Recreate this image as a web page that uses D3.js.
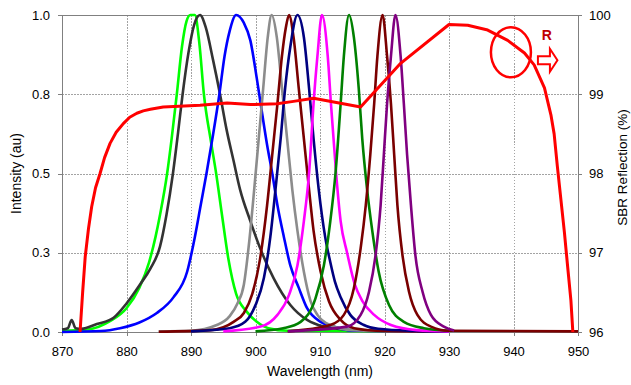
<!DOCTYPE html>
<html>
<head>
<meta charset="utf-8">
<script src="https://cdn.jsdelivr.net/npm/d3@7"></script>
<style>
    body { margin: 0; background: #fff; }
    svg { font-family: "Liberation Sans", Arial, sans-serif; }
    .axis text { font-size: 13px; fill: #000; }
    .axis path, .axis line { stroke: #808080; shape-rendering: crispEdges; }
    .grid line { stroke: #a3a3a3; stroke-dasharray: 1.5,1.5; shape-rendering: crispEdges; }
    .axis-title { font-size: 14px; fill: #000; }
</style>
</head>
<body>
<div id="chart"></div>
<script>
// Axis ticks
var wavelengthTicks = [870, 880, 890, 900, 910, 920, 930, 940, 950];
var intensityTicks = [0, 0.25, 0.5, 0.75, 1.0];
var intensityLabels = ["0.0", "0.3", "0.5", "0.8", "1.0"];
var reflectionTicks = [96, 97, 98, 99, 100];

// Laser emission spectra, [wavelength nm, normalised intensity]
var peakLime = [[870,0.004],[874,0.008],[877.5,0.035],[880,0.075],[882,0.14],[883.5,0.22],[884.5,0.3],[885.2,0.37],
    [886.3,0.5],[887,0.61],[887.8,0.75],[888.6,0.9],[889.3,0.98],[889.9,1.0],[890.6,1.0],[891.3,0.91],[892.0,0.75],
    [893.1,0.6],[893.9,0.5],[894.8,0.37],[895.8,0.23],[897.0,0.12],[898.6,0.065],[900.2,0.032],[902,0.012],[905,0.004],[930,0.002]];
var peakDarkGray = [[870,0.008],[870.9,0.012],[871.5,0.038],[872.1,0.012],[873,0.01],[875.4,0.025],[878,0.045],[880,0.09],
    [882.1,0.15],[883.7,0.2],[885.2,0.27],[886.2,0.37],[887.2,0.5],[888,0.63],[888.7,0.75],[889.6,0.88],[890.5,0.97],[891.4,1.0],
    [892.3,0.96],[893.4,0.86],[894.5,0.75],[895.5,0.64],[896.6,0.54],[897.6,0.45],[899.2,0.35],[900.8,0.26],[902.8,0.17],
    [905.4,0.085],[908,0.038],[910.6,0.017],[915,0.006],[925,0.002]];
var peakBlue = [[870,0.0],[876,0.003],[879,0.012],[882,0.03],[884.7,0.06],[887.3,0.11],[889.4,0.19],[890.6,0.3],[891.5,0.4],
    [892.4,0.5],[893.4,0.62],[894.4,0.75],[895.2,0.87],[896,0.95],[897,1.0],[898.2,0.975],[899.2,0.92],[900.2,0.8],[900.8,0.72],
    [901.8,0.59],[902.6,0.5],[903.4,0.4],[904.4,0.3],[905.4,0.21],[906.7,0.14],[908,0.075],[910.1,0.032],[912.1,0.017],
    [914.7,0.005],[930,0.002]];
var peakGray = [[885,0.002],[890,0.004],[894,0.022],[896,0.05],[897.2,0.09],[898.2,0.15],[899,0.28],[899.8,0.45],[900.5,0.61],
    [901.2,0.77],[901.9,0.93],[902.5,1.0],[903.3,0.93],[904.1,0.77],[904.9,0.61],[905.7,0.45],[906.5,0.32],[907.5,0.19],
    [908.5,0.1],[909.6,0.054],[911.6,0.022],[915,0.006],[925,0.002]];
var peakMaroonA = [[885,0.001],[893,0.006],[896.6,0.032],[898.2,0.06],[899.5,0.12],[900.7,0.23],[901.8,0.4],[902.6,0.56],
    [903.4,0.72],[904.1,0.87],[904.7,0.96],[905.2,1.0],[905.9,0.93],[906.7,0.77],[907.5,0.61],[908.3,0.45],[909,0.32],
    [910.1,0.19],[911.4,0.096],[913.2,0.038],[915.3,0.012],[920,0.003],[930,0.001]];
var peakNavy = [[890,0.002],[896,0.012],[898.4,0.032],[900,0.085],[901.3,0.17],[902.3,0.3],[903.1,0.45],[903.9,0.61],
    [904.6,0.77],[905.4,0.9],[906.5,1.0],[907.5,0.93],[908.3,0.77],[909,0.61],[909.8,0.45],[910.8,0.3],[911.6,0.22],
    [912.3,0.16],[913.2,0.11],[914.7,0.054],[916.8,0.022],[919,0.01],[925,0.003],[930,0.001]];
var peakMagenta = [[895,0.002],[900.8,0.017],[903.4,0.054],[905.2,0.117],[906.5,0.21],[907.5,0.35],[908.3,0.5],[909,0.72],
    [909.6,0.87],[910.3,1.0],[911.2,0.87],[911.7,0.72],[912.5,0.5],[913.2,0.35],[914.2,0.25],[915.4,0.15],[916.5,0.1],
    [918.4,0.054],[921,0.022],[925,0.006],[930,0.002]];
var peakGreen = [[900,0.002],[904.3,0.012],[907,0.032],[909.3,0.106],[910.6,0.21],[911.6,0.35],[912.4,0.5],[913.2,0.72],
    [913.7,0.87],[914.5,1.0],[915.25,0.93],[916,0.77],[916.55,0.61],[917.3,0.45],[918.1,0.32],[919.1,0.19],[920.7,0.085],
    [923,0.032],[926.1,0.012],[930,0.004]];
var peakMaroonB = [[905,0.002],[911.6,0.022],[913.7,0.054],[915.25,0.138],[916.3,0.264],[917.1,0.4],[917.8,0.56],[918.4,0.72],
    [918.9,0.87],[919.7,1.0],[920.4,0.87],[921,0.72],[921.5,0.56],[922,0.4],[922.8,0.24],[923.8,0.127],[925.1,0.054],
    [927.2,0.017],[930,0.004],[950,0.002]];
var peakPurple = [[905,0.002],[914.2,0.017],[916.3,0.054],[917.6,0.127],[918.6,0.24],[919.4,0.4],[919.9,0.56],[920.4,0.72],
    [921,0.87],[921.7,1.0],[922.5,0.87],[923,0.72],[923.5,0.56],[924.1,0.4],[924.8,0.24],[925.9,0.127],[927.2,0.054],
    [929.2,0.017],[930.8,0.005]];

// SBR reflection, [wavelength nm, reflection %]
var sbrReflection = [[872.8,96.0],[873.2,96.5],[873.6,96.95],[874.1,97.3],[874.6,97.58],[875.2,97.82],[875.9,98.0],
    [876.6,98.2],[877.45,98.38],[878.4,98.52],[879.5,98.63],[880.5,98.71],[881.6,98.76],[882.6,98.79],[883.7,98.81],
    [885.7,98.84],[891.4,98.86],[895.6,98.89],[899.2,98.87],[903.35,98.88],[905.9,98.91],[909.0,98.95],
    [916.3,98.84],[922.5,99.39],[930.0,99.88],[932.9,99.87],[936.0,99.81],[939.1,99.68],[941.7,99.52],[943.2,99.37],
    [944.8,99.08],[945.8,98.74],[946.3,98.5],[946.8,98.09],[947.35,97.67],[947.9,97.25],[948.4,96.82],[948.9,96.4],[949.2,96.0]];

var peakSeries = [peakLime, peakDarkGray, peakBlue, peakGray, peakMaroonA, peakNavy, peakMagenta, peakGreen, peakMaroonB, peakPurple];
var peakColors = ["#00ff00", "#333333", "#0000ff", "#8c8c8c", "#7a0000", "#000080", "#ff00ff", "#008000", "#7a0000", "#800080"];

var margin = { top: 15, right: 53, bottom: 53, left: 62 };
var width = 631 - margin.left - margin.right,
    height = 385 - margin.top - margin.bottom;

var svg = d3.select("#chart").append("svg")
    .attr("width", 631)
    .attr("height", 385)
    .append("g")
    .attr("transform", "translate(" + margin.left + "," + margin.top + ")");

// Scales
var x = d3.scaleLinear().domain([870, 950]).range([0, width]);
var y = d3.scaleLinear().domain([0, 1]).range([height, 0]);
var yR = d3.scaleLinear().domain([96, 100]).range([height, 0]);

// Gridlines
svg.append("g").attr("class", "grid")
    .selectAll("line").data(wavelengthTicks.slice(1, -1)).enter()
    .append("line")
    .attr("x1", function(d) { return Math.round(x(d)) + 0.5; })
    .attr("x2", function(d) { return Math.round(x(d)) + 0.5; })
    .attr("y1", 0).attr("y2", height);

svg.append("g").attr("class", "grid")
    .selectAll("line").data(intensityTicks.slice(1, -1)).enter()
    .append("line")
    .attr("x1", 0).attr("x2", width)
    .attr("y1", function(d) { return Math.round(y(d)) + 0.5; })
    .attr("y2", function(d) { return Math.round(y(d)) + 0.5; });

// Frame top line
svg.append("line")
    .attr("x1", 0).attr("x2", width).attr("y1", 0.5).attr("y2", 0.5)
    .attr("stroke", "#808080");

// Axes
svg.append("g").attr("class", "axis")
    .attr("transform", "translate(0," + height + ")")
    .call(d3.axisBottom(x).tickValues(wavelengthTicks).tickSize(4).tickPadding(11).tickFormat(d3.format("d")));

svg.append("g").attr("class", "axis")
    .call(d3.axisLeft(y).tickValues(intensityTicks).tickSize(4).tickPadding(8)
        .tickFormat(function(d, i) { return intensityLabels[i]; }));

svg.append("g").attr("class", "axis")
    .attr("transform", "translate(" + width + ",0)")
    .call(d3.axisRight(yR).tickValues(reflectionTicks).tickSize(4).tickPadding(7).tickFormat(d3.format("d")));

svg.selectAll(".axis .domain").attr("stroke", "#808080");

// Emission peaks
var peakLine = d3.line()
    .x(function(d) { return x(d[0]); })
    .y(function(d) { return y(d[1]); })
    .curve(d3.curveMonotoneX);

svg.selectAll(".peak")
    .data(peakSeries)
    .enter()
    .append("path")
    .attr("class", "peak")
    .attr("fill", "none")
    .attr("stroke", function(d, i) { return peakColors[i]; })
    .attr("stroke-width", 2.6)
    .attr("stroke-linejoin", "round")
    .attr("d", peakLine);

// SBR reflection curve (right axis)
var reflLine = d3.line()
    .x(function(d) { return x(d[0]); })
    .y(function(d) { return yR(d[1]); });

svg.append("path")
    .datum(sbrReflection)
    .attr("fill", "none")
    .attr("stroke", "#ff0000")
    .attr("stroke-width", 3)
    .attr("stroke-linejoin", "round")
    .attr("d", reflLine);

// Annotation: circle + R arrow
var cx = x(939.6), cy = yR(99.53);
svg.append("ellipse")
    .attr("cx", cx).attr("cy", cy)
    .attr("rx", 20).attr("ry", 25)
    .attr("fill", "none")
    .attr("stroke", "#ff0000")
    .attr("stroke-width", 2.5);

svg.append("text")
    .attr("x", cx + 36).attr("y", cy - 12)
    .attr("text-anchor", "middle")
    .attr("font-size", "14px")
    .attr("font-weight", "bold")
    .attr("fill", "#c00000")
    .text("R");

var ax = cx + 27, ay = cy + 8;
svg.append("path")
    .attr("d", "M" + ax + "," + (ay - 4) + "h12v-7.5l7.5,11.5l-7.5,11.5v-7.5h-12z")
    .attr("fill", "none")
    .attr("stroke", "#ff0000")
    .attr("stroke-width", 2);

// Axis titles
svg.append("text")
    .attr("class", "axis-title")
    .attr("transform", "translate(" + (-46) + "," + (height / 2) + ") rotate(-90)")
    .attr("text-anchor", "middle")
    .attr("dy", "0.35em")
    .text("Intensity (au)");

svg.append("text")
    .attr("class", "axis-title")
    .attr("transform", "translate(" + (width + 44) + "," + (height / 2 - 6) + ") rotate(-90)")
    .attr("text-anchor", "middle")
    .attr("dy", "0.35em")
    .style("font-size", "13.5px")
    .text("SBR Reflection (%)");

svg.append("text")
    .attr("class", "axis-title")
    .attr("x", width / 2)
    .attr("y", height + 44)
    .attr("text-anchor", "middle")
    .text("Wavelength (nm)");
</script>
</body>
</html>
